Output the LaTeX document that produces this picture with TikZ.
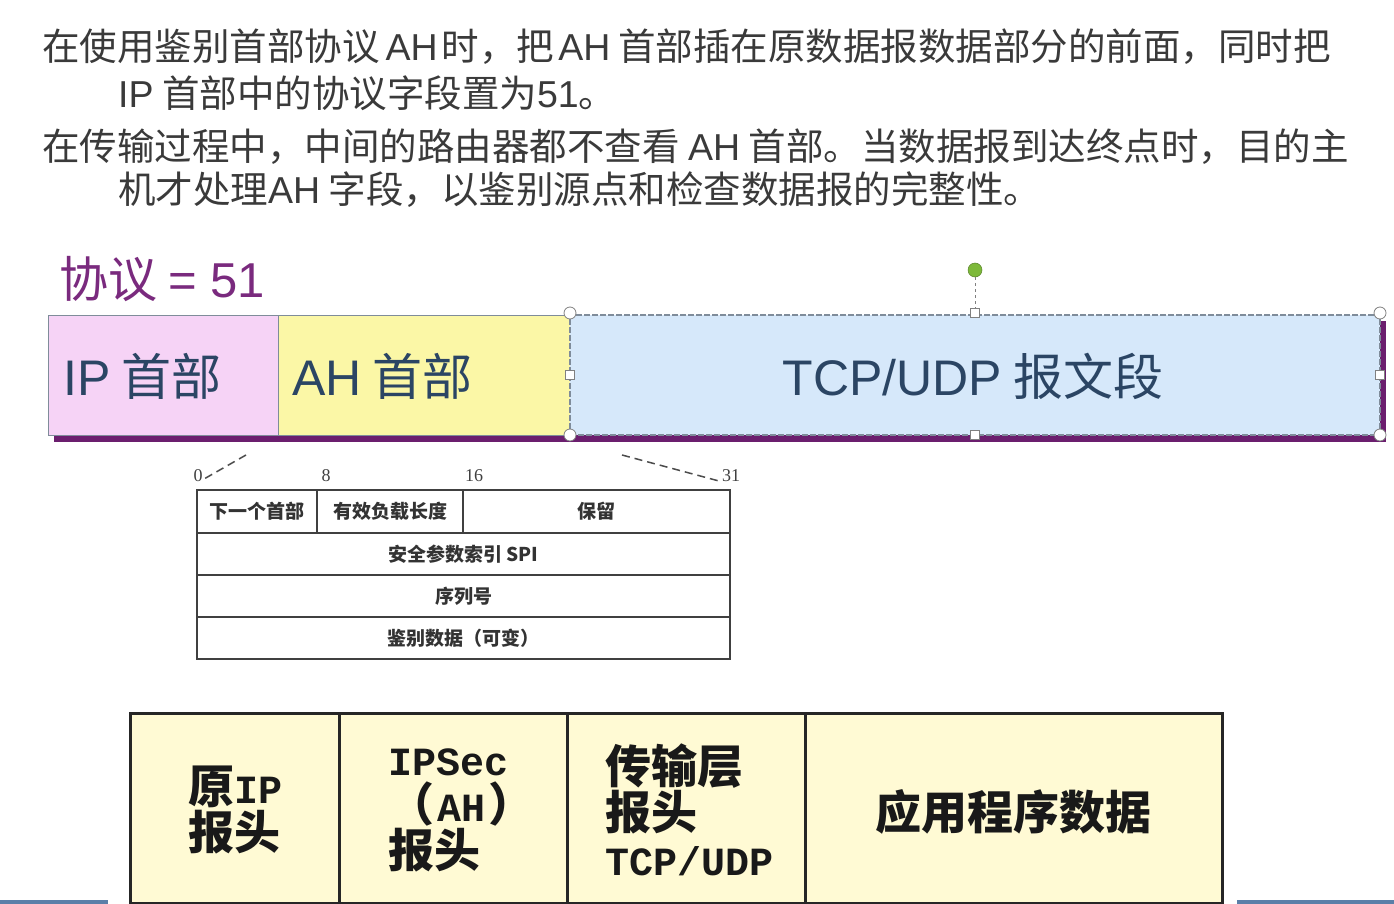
\documentclass[tikz,border=0pt]{standalone}
\usepackage{fontspec}
\setmainfont{Noto Sans CJK SC}
\newfontfamily\cjk{Noto Sans CJK SC}
\newfontfamily\arialike{Liberation Sans}
\newfontfamily\monob{Liberation Mono}
\newfontfamily\serifn{Liberation Serif}
\definecolor{txtgray}{HTML}{3A3A3A}
\definecolor{protopurple}{HTML}{7A2A7E}
\definecolor{shadowpurple}{HTML}{6B1E6E}
\definecolor{ippink}{HTML}{F6D3F6}
\definecolor{ahyellow}{HTML}{FBF7A6}
\definecolor{tcpblue}{HTML}{D6E8FA}
\definecolor{segborder}{HTML}{7F8C9A}
\definecolor{segtxt}{HTML}{2B4564}
\definecolor{boxyellow}{HTML}{FFFAD4}
\definecolor{handlegreen}{HTML}{7DB93A}
\definecolor{slideblue}{HTML}{5B7FA8}
\tikzset{
 para/.style={font=\fontsize{37.5}{44}\selectfont, text=txtgray, anchor=west, inner sep=0},
 seg/.style={draw=segborder, line width=1pt, minimum height=120pt, anchor=north west, inner sep=0, outer sep=0},
 segtext/.style={font=\fontsize{50}{56}\selectfont, text=segtxt, inner sep=0},
 cell/.style={draw=black!75, line width=1.2pt, minimum height=42pt, anchor=north west, inner sep=0, outer sep=0, font=\fontsize{19}{22}\selectfont\bfseries, text=black!80},
 bit/.style={font=\serifn\fontsize{18}{20}\selectfont, text=black!75, inner sep=0},
 bigbox/.style={draw=black!85, line width=3pt, fill=boxyellow, minimum height=190pt, anchor=north west, inner sep=0, outer sep=0},
 bigtext/.style={font=\fontsize{46}{46}\selectfont\bfseries, align=left, text=black!90, inner sep=0},
 handle/.style={circle, draw=gray, fill=white, minimum size=12pt, inner sep=0, line width=0.8pt},
 sqhandle/.style={rectangle, draw=gray, fill=white, minimum size=9pt, inner sep=0, line width=0.8pt},
 zoomline/.style={draw=black!70, line width=1.5pt, dash pattern=on 8pt off 5pt},
}
\newcommand{\mlat}[1]{{\monob\bfseries\fontsize{40}{46}\selectfont #1}}
\newcommand{\al}[1]{{\arialike #1}}
\begin{document}
\begin{tikzpicture}[x=1pt,y=-1pt]
\useasboundingbox (0,0) rectangle (1394,904);
\clip (0,0) rectangle (1394,904);
\fill[white] (0,0) rectangle (1394,904);

% paragraph text
\node[para] (l1) at (42,47) {在使用鉴别首部协议\hspace{6pt}\al{AH}\hspace{4pt}时，把\hspace{4pt}\al{AH}\hspace{8pt}首部插在原数据报数据部分的前面，同时把};
\node[para] (l2) at (118,93) {\al{IP} 首部中的协议字段置为\al{51}。};
\node[para] (l3) at (42,147) {在传输过程中，中间的路由器都不查看 \al{AH} 首部。当数据报到达终点时，目的主};
\node[para] (l4) at (118,190) {机才处理\al{AH} 字段，以鉴别源点和检查数据报的完整性。};

% protocol label
\node[font=\fontsize{49}{54}\selectfont, text=protopurple, anchor=west, inner sep=0] (proto) at (59,279) {协议 \al{= 51}};

% shadow
\fill[shadowpurple] (54,321) rectangle (1386,442);

% segments
\node[seg, fill=ippink, minimum width=230pt] (ip) at (48,315) {};
\node[seg, fill=ahyellow, minimum width=292pt] (ah) at (278,315) {};
\node[seg, fill=tcpblue, minimum width=810pt, draw=segborder, dash pattern=on 6pt off 2pt, line width=1.5pt] (tcp) at (570,315) {};
\node[segtext, anchor=west] (iptxt) at (63,376) {\al{IP} 首部};
\node[segtext, anchor=west] (ahtxt) at (292,376) {\al{AH} 首部};
\node[segtext] (tcptxt) at (973,376) {\al{TCP/UDP} 报文段};

% selection handles
\node[circle, fill=handlegreen, draw=handlegreen!70!black, line width=0.5pt, minimum size=14pt, inner sep=0] (rot) at (975,270) {};
\coordinate (rotend) at (975,309);
\draw[gray, dashed, line width=1pt] (rot.south) -- (rotend);
\node[handle] (h1) at (570,313) {};
\node[handle] (h2) at (1380,313) {};
\node[handle] (h3) at (570,435) {};
\node[handle] (h4) at (1380,435) {};
\node[sqhandle] (h5) at (975,313) {};
\node[sqhandle] (h6) at (975,435) {};
\node[sqhandle] (h7) at (570,375) {};
\node[sqhandle] (h8) at (1380,375) {};

% zoom lines
\coordinate (zl1) at (246,455);
\coordinate (zl2) at (204,479);
\coordinate (zr1) at (622,455);
\coordinate (zr2) at (719,481);
\draw[zoomline] (zl1) -- (zl2);
\draw[zoomline] (zr1) -- (zr2);

% bit labels
\node[bit] (b0) at (198,476) {0};
\node[bit] (b8) at (326,476) {8};
\node[bit] (b16) at (474,476) {16};
\node[bit] (b31) at (731,476) {31};

% AH table
\node[cell, minimum width=120pt, minimum height=43pt] (c1) at (197,490) {下一个首部};
\node[cell, minimum width=146pt, minimum height=43pt] (c2) at (317,490) {有效负载长度};
\node[cell, minimum width=267pt, minimum height=43pt] (c3) at (463,490) {保留};
\node[cell, minimum width=533pt] (c4) at (197,533) {安全参数索引 SPI};
\node[cell, minimum width=533pt] (c5) at (197,575) {序列号};
\node[cell, minimum width=533pt] (c6) at (197,617) {鉴别数据（可变）};

% bottom boxes
\node[bigbox, minimum width=209pt] (k1) at (130,713) {};
\node[bigbox, minimum width=228pt] (k2) at (339,713) {};
\node[bigbox, minimum width=238pt] (k3) at (567,713) {};
\node[bigbox, minimum width=417pt] (k4) at (805,713) {};
\node[bigtext, anchor=west] (t1) at (188,810) {原\mlat{IP}\\报头};
\node[bigtext, anchor=west] (t2) at (388,810) {\mlat{IPSec}\\（\hspace{3pt}\mlat{AH}\hspace{3pt}）\\报头};
\node[bigtext, anchor=west] (t3) at (605,810) {传输层\\报头\\\mlat{TCP/UDP}};
\node[bigtext] (t4) at (1013,812) {应用程序数据};

% slide edges
\fill[slideblue] (1237,900) rectangle (1394,904);
\fill[slideblue] (0,900) rectangle (108,904);
\end{tikzpicture}
\end{document}
